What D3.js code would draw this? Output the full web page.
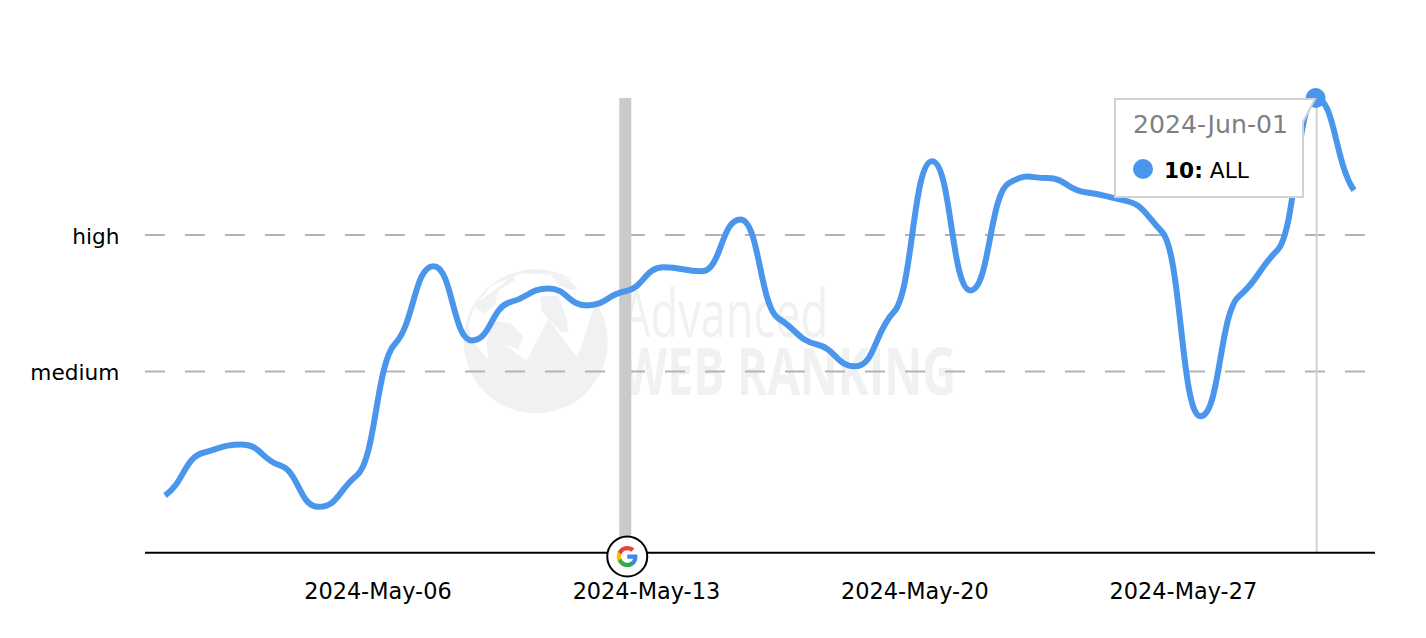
<!DOCTYPE html>
<html>
<head>
<meta charset="utf-8">
<script src="https://cdnjs.cloudflare.com/ajax/libs/d3/7.8.5/d3.min.js"></script>
<style>
  html, body { margin: 0; padding: 0; background: #fff; }
  svg { display: block; }
  text { font-family: "DejaVu Sans", Verdana, sans-serif; }
</style>
</head>
<body>
<svg id="chart" width="1426" height="638"></svg>
<script>
// values, one point per day
const days = ["2024-May-02","2024-May-03","2024-May-04","2024-May-05","2024-May-06","2024-May-07","2024-May-08","2024-May-09",
  "2024-May-10","2024-May-11","2024-May-12","2024-May-13","2024-May-14","2024-May-15","2024-May-16","2024-May-17",
  "2024-May-18","2024-May-19","2024-May-20","2024-May-21","2024-May-22","2024-May-23","2024-May-24","2024-May-25",
  "2024-May-26","2024-May-27","2024-May-28","2024-May-29","2024-May-30","2024-May-31","2024-Jun-01","2024-Jun-02"];
const volatility = [1.26,2.20,2.38,1.92,1.01,1.70,4.60,6.30,4.67,5.51,5.81,5.44,5.75,6.28,6.19,7.33,
  5.15,4.58,4.10,5.29,8.61,5.77,8.13,8.24,7.93,7.75,7.05,3.00,5.64,6.65,10,7.97];

const tickDays = ["2024-May-06","2024-May-13","2024-May-20","2024-May-27"];
const levelNames = ["high","medium"];
const levelValues = [7,4];
const updateDay = "2024-May-14";   // google update marker
const hoverDay = "2024-Jun-01";
const seriesName = "ALL";

const lineColor = "#4a96ec";
const markColor = "#f0f1f3";

const svg = d3.select("#chart");
const x = d3.scalePoint().domain(days).range([165, 1354]);
const y = d3.scaleLinear().domain([0, 10]).range([552.8, 98]);
const tickShift = 59.5; // labels sit off their day

// watermark, drawn in zoomed coords
const wm = svg.append("g").attr("transform", "translate(455,262) scale(0.3333)");
const blob = d3.line().curve(d3.curveLinearClosed);
wm.append("circle").attr("cx", 242).attr("cy", 238).attr("r", 216).attr("fill", markColor);
wm.append("path").attr("fill", "#fff")
  .attr("d", blob([[50,235],[110,305],[150,248],[215,297],[280,170],[365,285],[385,240],[405,170],[425,110],[380,60],[300,38],[200,34],[110,70],[60,130],[40,190]]));
const lands = [
  [[55,130],[90,105],[150,60],[175,40],[180,55],[130,85],[120,130],[85,155]],
  [[115,175],[170,185],[205,225],[190,262],[150,248],[110,305],[100,290],[95,240]],
  [[255,105],[310,100],[335,170],[340,210],[320,210],[280,170],[262,150]],
  [[285,35],[330,45],[370,80],[350,85],[310,70]]
];
wm.selectAll("path.land").data(lands).enter().append("path")
  .attr("class", "land").attr("fill", markColor).attr("d", d => blob(d));

svg.append("text").text("Advanced")
  .attr("x", 622).attr("y", 337)
  .attr("textLength", 206).attr("lengthAdjust", "spacingAndGlyphs")
  .style("font-family", "'Liberation Sans Narrow','Open Sans',sans-serif")
  .style("font-size", "66px").attr("fill", markColor);
svg.append("text").text("WEB RANKING")
  .attr("x", 622).attr("y", 395)
  .attr("textLength", 334).attr("lengthAdjust", "spacingAndGlyphs")
  .style("font-family", "'Liberation Sans Narrow','Open Sans',sans-serif")
  .style("font-weight", "bold")
  .style("font-size", "67px").attr("fill", markColor);

// level lines
svg.selectAll("line.level").data(levelValues).enter().append("line")
  .attr("class", "level")
  .attr("x1", 145).attr("x2", 1367)
  .attr("y1", d => y(d) + 0.5).attr("y2", d => y(d) + 0.5)
  .attr("stroke", "#b3b3b3").attr("stroke-width", 2)
  .attr("stroke-dasharray", "20,20");

svg.selectAll("text.level").data(levelNames).enter().append("text")
  .attr("class", "level")
  .attr("x", 119.5)
  .attr("y", (d, i) => y(levelValues[i]) + 9.5)
  .attr("text-anchor", "end")
  .style("font-size", "21.7px")
  .text(d => d);

// google update band
svg.append("rect")
  .attr("x", x(updateDay) - 6).attr("width", 12)
  .attr("y", y(10)).attr("height", y(0) - y(10))
  .attr("fill", "#cacaca");

// hover crosshair
svg.append("line")
  .attr("x1", x(hoverDay) + 1).attr("x2", x(hoverDay) + 1)
  .attr("y1", y(10)).attr("y2", y(0))
  .attr("stroke", "#ced2d6").attr("stroke-width", 2);

// spline with weak slopes at the knots and long handles, gives the shoulders
function splinePath(pts) {
  const n = pts.length;
  const slope = pts.map((p, i) => {
    if (i === 0) return 0.6 * (pts[1][1] - p[1]) / (pts[1][0] - p[0]);
    if (i === n - 1) return 0.6 * (p[1] - pts[i - 1][1]) / (p[0] - pts[i - 1][0]);
    const a = pts[i - 1], b = pts[i + 1];
    if ((p[1] - a[1]) * (b[1] - p[1]) <= 0) return 0;
    return 0.38 * (b[1] - a[1]) / (b[0] - a[0]);
  });
  const path = d3.path();
  path.moveTo(pts[0][0], pts[0][1]);
  for (let i = 1; i < n; i++) {
    const h = (pts[i][0] - pts[i - 1][0]) * 0.5;
    path.bezierCurveTo(pts[i - 1][0] + h, pts[i - 1][1] + slope[i - 1] * h,
      pts[i][0] - h, pts[i][1] - slope[i] * h, pts[i][0], pts[i][1]);
  }
  return path.toString();
}

const points = days.map((d, i) => [x(d), y(volatility[i])]);
svg.append("path")
  .attr("d", splinePath(points))
  .attr("fill", "none")
  .attr("stroke", lineColor)
  .attr("stroke-width", 6);

// x axis
svg.append("line")
  .attr("x1", 145).attr("x2", 1375)
  .attr("y1", y(0)).attr("y2", y(0))
  .attr("stroke", "#000").attr("stroke-width", 2);

svg.selectAll("text.tick").data(tickDays).enter().append("text")
  .attr("class", "tick")
  .attr("x", d => x(d) + tickShift)
  .attr("y", 599)
  .attr("text-anchor", "middle")
  .style("font-size", "22.4px")
  .text(d => d);

// google badge
const badge = svg.append("g").attr("transform", `translate(${x(updateDay) + 2},556.5)`);
badge.append("circle").attr("r", 20).attr("fill", "#fff").attr("stroke", "#000").attr("stroke-width", 2);
const gIcon = badge.append("g").attr("transform", "translate(-11.5,-11.5) scale(0.96)");
gIcon.append("path").attr("fill", "#4285F4").attr("d", "M22.56 12.25c0-.78-.07-1.53-.2-2.25H12v4.26h5.92c-.26 1.37-1.04 2.53-2.21 3.31v2.77h3.57c2.08-1.92 3.28-4.74 3.28-8.09z");
gIcon.append("path").attr("fill", "#34A853").attr("d", "M12 23c2.97 0 5.46-.98 7.28-2.66l-3.57-2.77c-.98.66-2.23 1.06-3.71 1.06-2.86 0-5.29-1.93-6.16-4.53H2.18v2.84C3.99 20.53 7.7 23 12 23z");
gIcon.append("path").attr("fill", "#FBBC05").attr("d", "M5.84 14.09c-.22-.66-.35-1.36-.35-2.09s.13-1.43.35-2.09V7.07H2.18C1.43 8.55 1 10.22 1 12s.43 3.45 1.18 4.93l2.85-2.22.81-.62z");
gIcon.append("path").attr("fill", "#EA4335").attr("d", "M12 5.38c1.62 0 3.06.56 4.21 1.64l3.15-3.15C17.45 2.09 14.97 1 12 1 7.7 1 3.99 3.47 2.18 7.07l3.66 2.84c.87-2.6 3.3-4.53 6.16-4.53z");

// hover dot and tooltip
const hoverIdx = days.indexOf(hoverDay);
svg.append("circle")
  .attr("cx", x(hoverDay)).attr("cy", y(volatility[hoverIdx]))
  .attr("r", 10).attr("fill", lineColor);

const tip = svg.append("g");
tip.append("path")
  .attr("d", "M1115,99H1315L1303,122V197H1115Z")
  .attr("fill", "#fff").attr("stroke", "#ced2d6").attr("stroke-width", 2);
tip.append("text").attr("x", 1133).attr("y", 133)
  .attr("fill", "#7f7f7f").style("font-size", "25.2px").text(hoverDay);
tip.append("circle").attr("cx", 1143).attr("cy", 169).attr("r", 10).attr("fill", lineColor);
const tipRow = tip.append("text").attr("x", 1164).attr("y", 178).style("font-size", "21.7px");
tipRow.append("tspan").style("font-weight", "bold").text(volatility[hoverIdx] + ":");
tipRow.append("tspan").attr("dx", 7).text(seriesName);
</script>
</body>
</html>
